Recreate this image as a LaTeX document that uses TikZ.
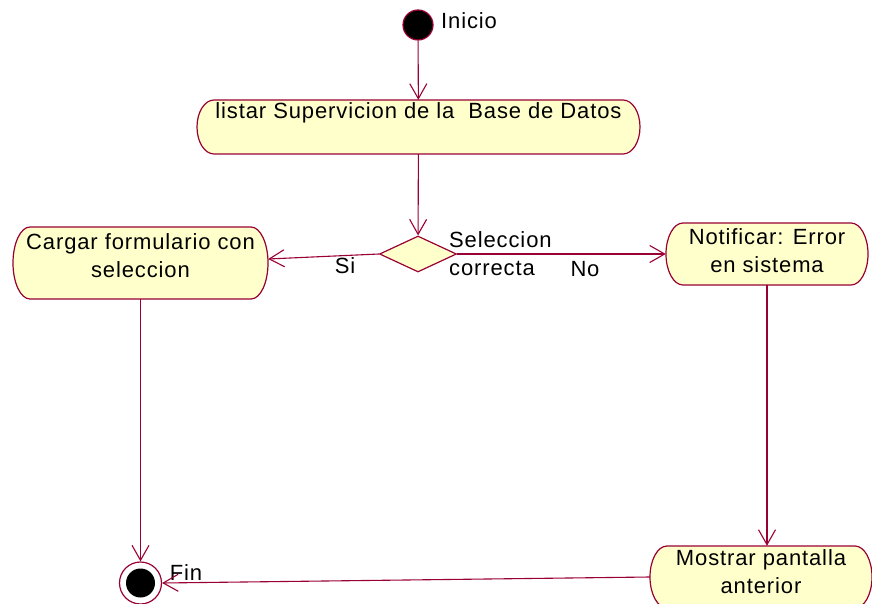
\documentclass[tikz,border=0pt]{standalone}
\usepackage{fontspec}
\setmainfont{Liberation Sans}[LetterSpace=4]
\usetikzlibrary{arrows.meta,shapes.geometric,calc}
\definecolor{umlline}{HTML}{990033}
\definecolor{umlfill}{HTML}{FFFFCC}
\tikzset{
  actshape/.style={draw=umlline, fill=umlfill, line width=1.2pt},
  actnode/.style={rectangle, inner sep=0pt},
  lbl/.style={inner sep=0pt, font=\fontsize{22}{28}\selectfont},
  flow/.style={draw=umlline, line width=1.1pt, -{Straight Barb[length=15pt,width=17pt,line width=1.1pt]}},
}
% #1 name, #2 x, #3 y, #4 width, #5 height, #6 text, #7 text y
\newcommand\actbox[7]{%
  \path[actshape] (#2-#4/2+17,#3-#5/2) -- (#2+#4/2-17,#3-#5/2)
    arc[start angle=-90,end angle=90,x radius=17,y radius=#5/2]
    -- (#2-#4/2+17,#3+#5/2)
    arc[start angle=90,end angle=270,x radius=17,y radius=#5/2] -- cycle;
  \node[actnode, minimum width=#4, minimum height=#5] (#1) at (#2,#3) {};
  \node[lbl, align=center] (#1-t) at (#2,#7) {#6};
}
\begin{document}
\begin{tikzpicture}[x=1pt,y=-1pt]
\useasboundingbox (0,0) rectangle (872,604);
\clip (0,0) rectangle (872,604);
\node[circle, draw=umlline, fill=black, line width=1.2pt, minimum size=30pt, inner sep=0pt] (start) at (418,25) {};
\node[lbl, anchor=west] (inicio) at (441,21) {Inicio};
\actbox{lista}{418.5}{127}{443}{54}{listar Supervicion de la\ \ Base de Datos}{113}
\node[diamond, draw=umlline, fill=umlfill, line width=1.2pt, minimum width=77pt, minimum height=36pt, inner sep=0pt] (dec) at (418,254) {};
\node[lbl, anchor=west, align=left] (selec) at (449,254) {Seleccion\\correcta};
\actbox{cargar}{140.5}{263}{255}{72}{Cargar formulario con\\seleccion}{256}
\actbox{notif}{767}{254}{202}{62}{Notificar: Error\\en sistema}{251}
\actbox{mostrar}{761}{577}{222}{62}{Mostrar pantalla\\anterior}{572}
\node[circle, draw=umlline, fill=white, line width=1.2pt, minimum size=42pt, inner sep=0pt] (fin) at (140.5,583) {};
\node[circle, fill=black, minimum size=29pt, inner sep=0pt] (finin) at (fin.center) {};
\node[lbl] (si) at (345,266) {Si};
\node[lbl] (no) at (585,269) {No};
\node[lbl] (finl) at (186,573) {Fin};
\draw[flow] (start) -- (lista);
\draw[flow] (lista) -- (dec);
\draw[flow] (dec.west) -- ($(cargar.east)+(0,-4)$);
\draw[flow] (dec.east) -- (notif.west);
\draw[flow] (cargar.south) -- (fin.north);
\draw[flow] (notif.south) -- (notif.south |- mostrar.north);
\draw[flow] (mostrar.west) -- (fin.east);
\end{tikzpicture}
\end{document}
